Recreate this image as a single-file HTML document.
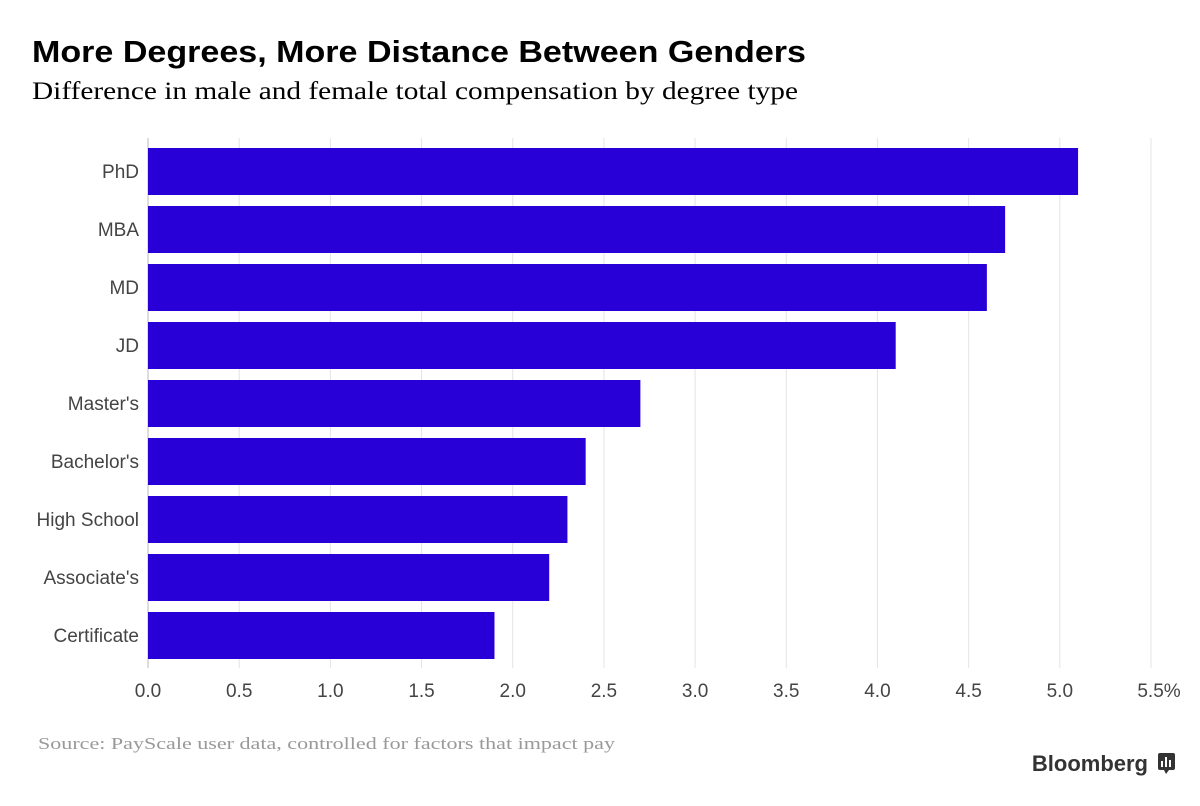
<!DOCTYPE html>
<html><head><meta charset="utf-8"><style>
body{margin:0;background:#fff;width:1200px;height:801px;overflow:hidden;font-family:"Liberation Sans",sans-serif}
</style></head><body>
<svg width="1200" height="801" xmlns="http://www.w3.org/2000/svg">
<text x="32" y="62" font-size="31" font-weight="bold" fill="#000" textLength="774" lengthAdjust="spacingAndGlyphs">More Degrees, More Distance Between Genders</text>
<text x="32" y="99" font-size="25" font-family="Liberation Serif, serif" fill="#000" textLength="766" lengthAdjust="spacingAndGlyphs">Difference in male and female total compensation by degree type</text>
<g id="grid"></g><g id="bars"></g><g id="ylabels"></g><g id="xlabels"></g>
<text x="38" y="749" font-size="17" font-family="Liberation Serif, serif" fill="#999" textLength="577" lengthAdjust="spacingAndGlyphs">Source: PayScale user data, controlled for factors that impact pay</text>
<text x="1148" y="771" font-size="22" font-weight="bold" fill="#333" text-anchor="end">Bloomberg</text>
<g><rect x="1158" y="753" width="17" height="17" rx="2" fill="#333"/><polygon points="1164,770 1169,770 1166,774" fill="#333"/><rect x="1161" y="761" width="2" height="6" fill="#fff"/><rect x="1165" y="757" width="2" height="10" fill="#fff"/><rect x="1169" y="760" width="2" height="7" fill="#fff"/></g>
</svg>
<script>
const categories=["PhD","MBA","MD","JD","Master's","Bachelor's","High School","Associate's","Certificate"];
const values=[5.1,4.7,4.6,4.1,2.7,2.4,2.3,2.2,1.9];
const ticks=[0,0.5,1,1.5,2,2.5,3,3.5,4,4.5,5,5.5];
const tickLabels=["0.0","0.5","1.0","1.5","2.0","2.5","3.0","3.5","4.0","4.5","5.0","5.5%"];
const NS="http://www.w3.org/2000/svg";
const x=v=>148+v*(1151-148)/5.5;
const yTop=i=>148+i*58;
function mk(t,a,p){const e=document.createElementNS(NS,t);for(const k in a)e.setAttribute(k,a[k]);document.getElementById(p).appendChild(e);return e;}
ticks.forEach((t,i)=>{
 const l=mk('line',{x1:x(t),x2:x(t),y1:138,y2:668,stroke:t===0?'#bbb':'#e4e4e4','stroke-width':1},'grid');
 
 
 const tx=mk('text',{x:x(t)+(i===ticks.length-1?8:0),y:697,'font-size':19,fill:'#444','text-anchor':'middle'},'xlabels');
 tx.textContent=tickLabels[i];
 
 
});
categories.forEach((c,i)=>{
 const r=mk('rect',{x:x(0),y:yTop(i),width:x(values[i])-x(0),height:47,fill:'#2800d7'},'bars');
 
 
 const t=mk('text',{x:139,y:yTop(i)+30,'font-size':19,fill:'#444','text-anchor':'end'},'ylabels');
 t.textContent=c;
 
 
});
</script>
</body></html>
